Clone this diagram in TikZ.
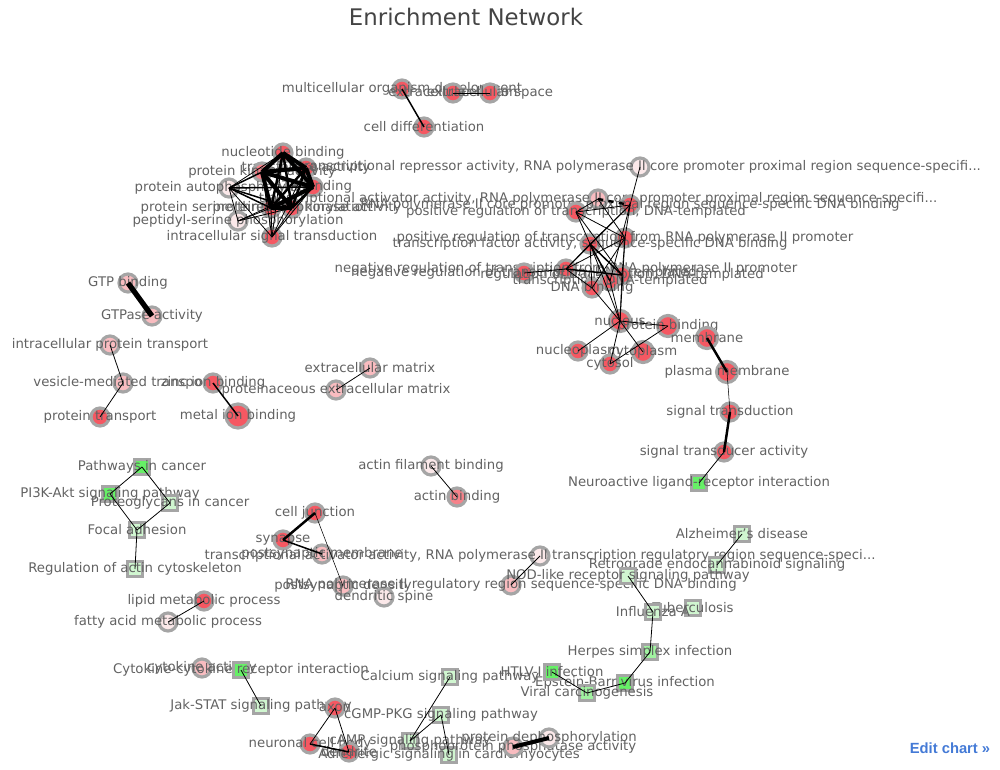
\documentclass[tikz,border=0pt]{standalone}
\usepackage{fontspec}
\setmainfont{DejaVu Sans}
\newfontfamily\editfont{Liberation Sans}

\definecolor{ring}{RGB}{165,165,165}
\definecolor{redA}{RGB}{245,88,98}
\definecolor{redB}{RGB}{246,130,138}
\definecolor{redC}{RGB}{249,188,192}
\definecolor{redD}{RGB}{251,232,233}
\definecolor{grnA}{RGB}{102,240,102}
\definecolor{grnB}{RGB}{160,242,160}
\definecolor{grnC}{RGB}{208,246,208}
\definecolor{txt}{RGB}{98,98,98}
\definecolor{titlegray}{RGB}{68,68,68}
\definecolor{editblue}{RGB}{68,122,214}

\tikzset{
  term/.style={circle, draw=ring, line width=1.8pt, minimum size=0.36cm, inner sep=0pt},
  rA/.style={term, fill=redA},
  rB/.style={term, fill=redB},
  rC/.style={term, fill=redC},
  rD/.style={term, fill=redD},
  kegg/.style={rectangle, draw=ring, line width=1.5pt, minimum size=0.29cm, inner sep=0pt},
  gA/.style={kegg, fill=grnA},
  gB/.style={kegg, fill=grnB},
  gC/.style={kegg, fill=grnC},
  lbl/.style={text=txt, font=\fontsize{7.55}{9}\selectfont, inner sep=0pt},
  wthin/.style={line width=0.45pt},
  wmid/.style={line width=0.85pt},
  wthick/.style={line width=1.4pt},
  wheavy/.style={line width=2.3pt}
}

\begin{document}
\begin{tikzpicture}[x=0.02cm, y=-0.02cm]
    \useasboundingbox (0,0) rectangle (1000,770);

    \node[font=\fontsize{13}{15}\selectfont, text=titlegray] (title) at (466,17) {Enrichment Network};
    \node[font=\editfont\bfseries\fontsize{8.4}{10}\selectfont, text=editblue] (edit) at (950,748) {Edit chart »};

    % top group
    \node[rA, label={[lbl]center:multicellular organism development}] (mod) at (402,89) {};
    \node[rA, label={[lbl]center:extracellular region}] (exreg) at (453,93) {};
    \node[rA, label={[lbl]center:extracellular space}] (exsp) at (490,93) {};
    \node[rA, label={[lbl]center:cell differentiation}] (celldiff) at (424,127) {};

    % kinase group
    \node[rA, label={[lbl]center:nucleotide binding}] (ntb) at (283,153) {};
    \node[rA, label={[lbl]center:transferase activity}] (trf) at (306,168) {};
    \node[rB, label={[lbl]center:protein kinase activity}] (pka) at (262,172) {};
    \node[rD, label={[lbl]center:protein autophosphorylation}] (pap) at (229,188) {};
    \node[rA, label={[lbl]center:ATP binding}] (atp) at (313,187) {};
    \node[rA, label={[lbl]center:protein serine/threonine kinase activity}] (stk) at (271,208) {};
    \node[rA, label={[lbl]center:protein phosphorylation}] (pph) at (292,208) {};
    \node[rD, label={[lbl]center:peptidyl-serine phosphorylation}] (pss) at (238,221) {};
    \node[rA, label={[lbl]center:intracellular signal transduction}] (isig) at (272,237) {};

    % transcription group
    \node[rD, label={[lbl]center:transcriptional repressor activity, RNA polymerase II core promoter proximal region sequence-specifi...}] (trep) at (640,167) {};
    \node[rC, label={[lbl]center:transcriptional activator activity, RNA polymerase II core promoter proximal region sequence-specifi...}] (tact) at (598,199) {};
    \node[rA, label={[lbl]center:RNA polymerase II core promoter proximal region sequence-specific DNA binding}] (pold) at (630,205) {};
    \node[rA, label={[lbl]center:positive regulation of transcription, DNA-templated}] (posdna) at (576,212) {};
    \node[rA, label={[lbl]center:positive regulation of transcription from RNA polymerase II promoter}] (posp) at (625,238) {};
    \node[rA, label={[lbl]center:transcription factor activity, sequence-specific DNA binding}] (tfa) at (590,244) {};
    \node[rA, label={[lbl]center:negative regulation of transcription from RNA polymerase II promoter}] (negp) at (566,269) {};
    \node[rA, label={[lbl]center:negative regulation of transcription, DNA-templated}] (negdna) at (524,273) {};
    \node[rA, label={[lbl]center:regulation of transcription, DNA-templated}] (regdna) at (622,275) {};
    \node[rA, label={[lbl]center:transcription, DNA-templated}] (trdna) at (610,281) {};
    \node[rA, label={[lbl]center:DNA binding}] (dnab) at (592,288) {};

    % cell compartments
    \node[rA, minimum size=0.42cm, label={[lbl]center:nucleus}] (nucleus) at (620,321) {};
    \node[rA, minimum size=0.42cm, label={[lbl]center:protein binding}] (pbind) at (668,326) {};
    \node[rA, minimum size=0.42cm, label={[lbl]center:membrane}] (memb) at (707,338) {};
    \node[rA, label={[lbl]center:nucleoplasm}] (npl) at (578,351) {};
    \node[rA, minimum size=0.42cm, label={[lbl]center:cytoplasm}] (cyto) at (643,352) {};
    \node[rA, label={[lbl]center:cytosol}] (cytosol) at (610,364) {};
    \node[rA, minimum size=0.42cm, label={[lbl]center:plasma membrane}] (pmem) at (727,372) {};
    \node[rA, label={[lbl]center:signal transduction}] (sigt) at (730,412) {};
    \node[rA, label={[lbl]center:signal transducer activity}] (sigta) at (724,452) {};
    \node[gA, label={[lbl]center:Neuroactive ligand-receptor interaction}] (neuro) at (699,483) {};

    % left side
    \node[rC, label={[lbl]center:GTP binding}] (gtp) at (128,283) {};
    \node[rC, label={[lbl]center:GTPase activity}] (gtpase) at (152,316) {};
    \node[rC, label={[lbl]center:intracellular protein transport}] (ipt) at (110,345) {};
    \node[rC, label={[lbl]center:vesicle-mediated transport}] (vmt) at (123,383) {};
    \node[rA, label={[lbl]center:protein transport}] (pt) at (100,417) {};
    \node[rA, label={[lbl]center:zinc ion binding}] (zinc) at (213,383) {};
    \node[rA, minimum size=0.48cm, label={[lbl]center:metal ion binding}] (metal) at (238,416) {};
    \node[rC, label={[lbl]center:extracellular matrix}] (ecm) at (370,368) {};
    \node[rC, label={[lbl]center:proteinaceous extracellular matrix}] (pecm) at (336,390) {};

    \node[rD, label={[lbl]center:actin filament binding}] (afb) at (431,466) {};
    \node[rB, label={[lbl]center:actin binding}] (ab) at (457,497) {};

    % cancer pathways
    \node[gA, label={[lbl]center:Pathways in cancer}] (pic) at (142,467) {};
    \node[gA, label={[lbl]center:PI3K-Akt signaling pathway}] (pi3k) at (110,494) {};
    \node[gC, label={[lbl]center:Proteoglycans in cancer}] (pgc) at (170,503) {};
    \node[gC, label={[lbl]center:Focal adhesion}] (fa) at (137,530) {};
    \node[gC, label={[lbl]center:Regulation of actin cytoskeleton}] (rac) at (135,569) {};

    % synapse
    \node[rA, label={[lbl]center:cell junction}] (cj) at (315,513) {};
    \node[rA, label={[lbl]center:synapse}] (syn) at (283,540) {};
    \node[rC, label={[lbl]center:postsynaptic membrane}] (psm) at (322,554) {};
    \node[rC, label={[lbl]center:postsynaptic density}] (psd) at (343,586) {};
    \node[rD, label={[lbl]center:dendritic spine}] (ds) at (384,597) {};

    \node[rD, label={[lbl]center:transcriptional activator activity, RNA polymerase II transcription regulatory region sequence-speci...}] (tatr) at (540,556) {};
    \node[rC, label={[lbl]center:RNA polymerase II regulatory region sequence-specific DNA binding}] (rnar) at (511,585) {};

    \node[rA, label={[lbl]center:lipid metabolic process}] (lmp) at (204,601) {};
    \node[rD, label={[lbl]center:fatty acid metabolic process}] (famp) at (168,622) {};

    % bottom left
    \node[rC, label={[lbl]center:cytokine activity}] (cka) at (202,668) {};
    \node[gA, label={[lbl]center:Cytokine-cytokine receptor interaction}] (ccri) at (241,670) {};
    \node[gC, label={[lbl]center:Jak-STAT signaling pathway}] (jak) at (261,706) {};
    \node[rA, label={[lbl]center:axon}] (axon) at (335,708) {};
    \node[rA, label={[lbl]center:neuronal cell body}] (ncb) at (310,744) {};
    \node[rA, label={[lbl]center:dendrite}] (dend) at (349,752) {};

    \node[gC, label={[lbl]center:Calcium signaling pathway}] (calc) at (450,677) {};
    \node[gC, label={[lbl]center:cGMP-PKG signaling pathway}] (cgmp) at (441,715) {};
    \node[gC, label={[lbl]center:cAMP signaling pathway}] (camp) at (410,741) {};
    \node[gC, label={[lbl]center:Adrenergic signaling in cardiomyocytes}] (adr) at (449,755) {};
    \node[rC, label={[lbl]center:phosphoprotein phosphatase activity}] (ppa) at (513,747) {};
    \node[rD, label={[lbl]center:protein dephosphorylation}] (pdp) at (549,738) {};

    % infection pathways
    \node[gC, label={[lbl]center:Alzheimer's disease}] (alz) at (742,534) {};
    \node[gC, label={[lbl]center:Retrograde endocannabinoid signaling}] (retro) at (717,565) {};
    \node[gC, label={[lbl]center:NOD-like receptor signaling pathway}] (nod) at (628,576) {};
    \node[gC, label={[lbl]center:Tuberculosis}] (tb) at (693,608) {};
    \node[gC, label={[lbl]center:Influenza A}] (flu) at (653,612) {};
    \node[gB, label={[lbl]center:Herpes simplex infection}] (hsv) at (650,652) {};
    \node[gA, label={[lbl]center:Epstein-Barr virus infection}] (ebv) at (625,683) {};
    \node[gB, label={[lbl]center:Viral carcinogenesis}] (vc) at (587,693) {};
    \node[gA, label={[lbl]center:HTLV-I infection}] (htlv) at (552,672) {};

    % links
    \draw[wmid] (mod.center) -- (celldiff.center);
    \draw[wthin] (exreg.center) -- (exsp.center);

    \draw[wheavy] (ntb.center) -- (trf.center);
    \draw[wheavy] (ntb.center) -- (atp.center);
    \draw[wheavy] (ntb.center) -- (pka.center);
    \draw[wthick] (ntb.center) -- (stk.center);
    \draw[wthick] (ntb.center) -- (pph.center);
    \draw[wthin] (ntb.center) -- (isig.center);
    \draw[wheavy] (trf.center) -- (atp.center);
    \draw[wheavy] (trf.center) -- (pka.center);
    \draw[wthick] (trf.center) -- (stk.center);
    \draw[wthick] (trf.center) -- (pph.center);
    \draw[wheavy] (pka.center) -- (atp.center);
    \draw[wheavy] (pka.center) -- (stk.center);
    \draw[wheavy] (pka.center) -- (pph.center);
    \draw[wmid] (pka.center) -- (pap.center);
    \draw[wthin] (pka.center) -- (isig.center);
    \draw[wheavy] (atp.center) -- (stk.center);
    \draw[wthick] (atp.center) -- (pph.center);
    \draw[wmid] (atp.center) -- (pap.center);
    \draw[wthin] (atp.center) -- (pss.center);
    \draw[wthin] (atp.center) -- (isig.center);
    \draw[wheavy] (stk.center) -- (pph.center);
    \draw[wmid] (stk.center) -- (pap.center);
    \draw[wthin] (stk.center) -- (pss.center);
    \draw[wthin] (stk.center) -- (isig.center);
    \draw[wmid] (pph.center) -- (pap.center);
    \draw[wthin] (pph.center) -- (pss.center);
    \draw[wthin] (pph.center) -- (isig.center);
    \draw[wthin] (pap.center) -- (pss.center);
    \draw[wthin] (pap.center) -- (isig.center);
    \draw[wthin] (trf.center) -- (isig.center);
    \draw[wthin] (ntb.center) -- (pap.center);

    \draw[wthin] (trep.center) -- (pold.center);
    \draw[wthick, dashed] (tact.center) -- (pold.center);
    \draw[wthin] (tact.center) -- (posdna.center);
    \draw[wthin] (tact.center) -- (posp.center);
    \draw[wthin] (posdna.center) -- (posp.center);
    \draw[wthin] (posdna.center) -- (tfa.center);
    \draw[wthin] (posdna.center) -- (pold.center);
    \draw[wthin] (posdna.center) -- (regdna.center);
    \draw[wthin] (pold.center) -- (tfa.center);
    \draw[wthin] (pold.center) -- (posp.center);
    \draw[wthin] (pold.center) -- (negp.center);
    \draw[wthin] (pold.center) -- (trdna.center);
    \draw[wthin] (tfa.center) -- (negp.center);
    \draw[wmid] (tfa.center) -- (regdna.center);
    \draw[wthin] (tfa.center) -- (dnab.center);
    \draw[wmid] (tfa.center) -- (trdna.center);
    \draw[wthin] (posp.center) -- (negp.center);
    \draw[wthin] (posp.center) -- (dnab.center);
    \draw[wthin] (posp.center) -- (regdna.center);
    \draw[wmid] (negp.center) -- (regdna.center);
    \draw[wthin] (negp.center) -- (negdna.center);
    \draw[wthin] (negp.center) -- (dnab.center);
    \draw[wthin] (dnab.center) -- (nucleus.center);
    \draw[wthin] (trdna.center) -- (nucleus.center);
    \draw[wthin] (regdna.center) -- (nucleus.center);
    \draw[wthin] (tfa.center) -- (nucleus.center);
    \draw[wthin] (posp.center) -- (nucleus.center);

    \draw[wthin] (nucleus.center) -- (npl.center);
    \draw[wthin] (nucleus.center) -- (cyto.center);
    \draw[wthin] (nucleus.center) -- (cytosol.center);
    \draw[wthin] (nucleus.center) -- (pbind.center);
    \draw[wthin] (cytosol.center) -- (pbind.center);
    \draw[wthick] (memb.center) -- (pmem.center);
    \draw[line width=0.3pt] (pmem.center) -- (sigt.center);
    \draw[wthick] (sigt.center) -- (sigta.center);
    \draw[wthin] (sigta.center) -- (neuro.center);

    \draw[line width=3pt] (gtp.center) -- (gtpase.center);
    \draw[wthin] (ipt.center) -- (vmt.center);
    \draw[wthin] (vmt.center) -- (pt.center);
    \draw[wmid] (zinc.center) -- (metal.center);
    \draw[wthin] (ecm.center) -- (pecm.center);
    \draw[wthin] (afb.center) -- (ab.center);

    \draw[wthin] (pic.center) -- (pi3k.center);
    \draw[wthin] (pic.center) -- (pgc.center);
    \draw[wthin] (pi3k.center) -- (fa.center);
    \draw[wthin] (pgc.center) -- (fa.center);
    \draw[wthin] (fa.center) -- (rac.center);

    \draw[wthick] (cj.center) -- (syn.center);
    \draw[wmid] (syn.center) -- (psm.center);
    \draw[line width=0.3pt] (cj.center) -- (psd.center);
    \draw[wthin] (tatr.center) -- (rnar.center);
    \draw[wthin] (lmp.center) -- (famp.center);

    \draw[wthin] (ccri.center) -- (jak.center);
    \draw[wthin] (axon.center) -- (ncb.center);
    \draw[wthin] (axon.center) -- (dend.center);
    \draw[wmid] (ncb.center) -- (dend.center);
    \draw[wthin] (calc.center) -- (camp.center);
    \draw[wthin] (cgmp.center) -- (camp.center);
    \draw[wthin] (cgmp.center) -- (adr.center);
    \draw[wheavy] (ppa.center) -- (pdp.center);

    \draw[wthin] (alz.center) -- (retro.center);
    \draw[wthin] (nod.center) -- (flu.center);
    \draw[wthin] (flu.center) -- (hsv.center);
    \draw[wthin] (hsv.center) -- (ebv.center);
    \draw[wthin] (ebv.center) -- (vc.center);
    \draw[wthin] (vc.center) -- (htlv.center);
\end{tikzpicture}
\end{document}
